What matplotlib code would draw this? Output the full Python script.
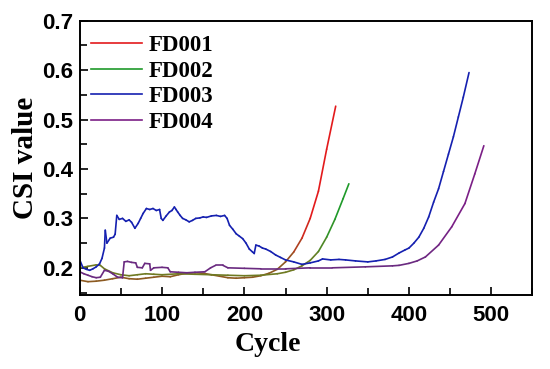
import matplotlib
matplotlib.use("Agg")
import matplotlib.pyplot as plt
import numpy as np
from matplotlib.ticker import MultipleLocator
from matplotlib.collections import LineCollection
from matplotlib.lines import Line2D
from matplotlib.colors import to_rgb

# ---- data ----
fd001_x = [0, 10, 20, 30, 40, 50, 60, 70, 80, 90, 100, 110, 120, 130, 140, 150, 160, 170, 180,
           190, 200, 210, 220, 230, 240, 250, 260, 270, 280, 290, 300, 311]
fd001_y = [0.175, 0.172, 0.173, 0.175, 0.178, 0.181, 0.178, 0.177, 0.179, 0.181, 0.183, 0.182,
           0.186, 0.189, 0.190, 0.189, 0.186, 0.183, 0.180, 0.179, 0.180, 0.181, 0.184, 0.189,
           0.197, 0.212, 0.232, 0.260, 0.300, 0.355, 0.440, 0.527]

fd002_x = [0, 10, 20, 25, 30, 40, 50, 60, 70, 80, 90, 100, 120, 140, 160, 180, 200, 220, 240,
           250, 260, 270, 280, 290, 300, 310, 320, 327]
fd002_y = [0.200, 0.203, 0.206, 0.205, 0.198, 0.190, 0.186, 0.184, 0.186, 0.188, 0.187, 0.186,
           0.188, 0.187, 0.186, 0.185, 0.184, 0.185, 0.188, 0.191, 0.196, 0.204, 0.215, 0.233,
           0.262, 0.298, 0.340, 0.370]

fd003_x = [0, 4, 8, 12, 16, 20, 24, 27, 30, 31, 33, 37, 41, 43, 45, 48, 52, 56, 60, 63, 67, 71,
           74, 77, 81, 85, 89, 93, 97, 99, 101, 105, 109, 112, 115, 117, 119, 122, 125, 129, 133,
           137, 141, 146, 150, 154, 160, 166, 171, 176, 179, 182, 186, 190, 194, 198, 202, 206,
           210, 212, 214, 218, 222, 226, 232, 238, 244, 250, 260, 270, 280, 290, 295, 305, 315,
           323, 335, 350, 360, 371, 380, 388, 395, 400, 406, 412, 418, 424, 430, 436, 442, 448,
           454, 460, 466, 473]
fd003_y = [0.216, 0.200, 0.197, 0.195, 0.198, 0.202, 0.208, 0.219, 0.240, 0.276, 0.250, 0.260,
           0.262, 0.268, 0.306, 0.298, 0.300, 0.294, 0.297, 0.292, 0.280, 0.290, 0.300, 0.310,
           0.320, 0.318, 0.320, 0.316, 0.318, 0.300, 0.296, 0.305, 0.313, 0.316, 0.323, 0.318,
           0.313, 0.306, 0.300, 0.297, 0.293, 0.296, 0.300, 0.301, 0.303, 0.302, 0.305, 0.306,
           0.304, 0.306, 0.300, 0.286, 0.278, 0.269, 0.264, 0.259, 0.250, 0.238, 0.232, 0.229,
           0.246, 0.244, 0.240, 0.238, 0.233, 0.226, 0.221, 0.216, 0.212, 0.207, 0.210, 0.214,
           0.218, 0.216, 0.217, 0.216, 0.214, 0.212, 0.214, 0.217, 0.222, 0.230, 0.236, 0.240,
           0.250, 0.262, 0.280, 0.303, 0.333, 0.360, 0.395, 0.430, 0.465, 0.505, 0.545, 0.595]

fd004_x = [0, 5, 10, 15, 20, 25, 30, 35, 40, 46, 52, 54, 58, 63, 68, 70, 76, 79, 85, 86, 90,
           100, 107, 110, 120, 130, 140, 152, 159, 165, 174, 180, 200, 220, 250, 280, 307, 347,
           380, 388, 400, 410, 420, 436, 452, 468, 480, 491]
fd004_y = [0.192, 0.188, 0.185, 0.182, 0.180, 0.181, 0.195, 0.193, 0.188, 0.181, 0.180, 0.212,
           0.213, 0.211, 0.210, 0.201, 0.200, 0.209, 0.208, 0.195, 0.200, 0.201, 0.200, 0.192,
           0.191, 0.190, 0.191, 0.192, 0.200, 0.205, 0.205, 0.200, 0.199, 0.198, 0.198, 0.200,
           0.200, 0.202, 0.204, 0.205, 0.209, 0.214, 0.222, 0.246, 0.283, 0.330, 0.390, 0.447]

# name, x, y, main colour, colour where the curve is low
series = [("FD001", fd001_x, fd001_y, "#e31a1c", "#8c5a22"),
          ("FD002", fd002_x, fd002_y, "#1f9a2a", "#6f7a22"),
          ("FD003", fd003_x, fd003_y, "#1520b0", "#1520b0"),
          ("FD004", fd004_x, fd004_y, "#7b1f86", "#6a2a80")]

xlim = (0, 550)
ylim = (0.145, 0.7)

fig = plt.figure(figsize=(5.5, 3.69), dpi=100)
ax = fig.add_axes([0.145, 0.2005, 0.823, 0.7435])

handles = []
for name, xs, ys, c_hi, c_lo in series:
    xs = np.asarray(xs, float)
    ys = np.asarray(ys, float)
    pts = np.column_stack([xs, ys]).reshape(-1, 1, 2)
    segs = np.concatenate([pts[:-1], pts[1:]], axis=1)
    ymid = 0.5 * (ys[:-1] + ys[1:])
    t = np.clip((ymid - 0.21) / 0.09, 0, 1)[:, None]
    cols = (1 - t) * np.array(to_rgb(c_lo)) + t * np.array(to_rgb(c_hi))
    lc = LineCollection(segs, colors=cols, linewidths=1.2, capstyle="round", joinstyle="round")
    ax.add_collection(lc)
    handles.append(Line2D([], [], color=c_hi, lw=1.2, label=name))

ax.set_xlim(*xlim)
ax.set_ylim(*ylim)
ax.xaxis.set_major_locator(MultipleLocator(100))
ax.xaxis.set_minor_locator(MultipleLocator(50))
ax.yaxis.set_major_locator(MultipleLocator(0.1))
ax.yaxis.set_minor_locator(MultipleLocator(0.05))
ax.tick_params(which="both", direction="in", width=1.2)
ax.tick_params(which="major", length=6, labelsize=16)
ax.tick_params(axis="x", which="major", pad=7)
ax.tick_params(axis="y", which="major", pad=5)
ax.tick_params(which="minor", length=5)
ax.tick_params(axis="both", which="both", top=False, right=False)
for lab in ax.get_xticklabels() + ax.get_yticklabels():
    lab.set_fontfamily("Liberation Sans")
    lab.set_fontweight("bold")
for s in ax.spines.values():
    s.set_linewidth(1.4)

ax.set_xlabel("Cycle", fontfamily="Liberation Serif", fontweight="bold", fontsize=20, labelpad=8)
ax.xaxis.set_label_coords(0.415, -0.135)
ax.xaxis.label.set_va("top")
ax.set_ylabel("CSI value", fontfamily="Liberation Serif", fontweight="bold", fontsize=21, labelpad=2)

leg = ax.legend(handles=handles, loc="upper left", frameon=False,
                prop={"family": "Liberation Serif", "weight": "bold", "size": 16.5},
                handlelength=2.2, handletextpad=0.3, labelspacing=0.19, borderaxespad=0.1,
                bbox_to_anchor=(0.0, 0.988))

fig.savefig("out.png", dpi=100)
